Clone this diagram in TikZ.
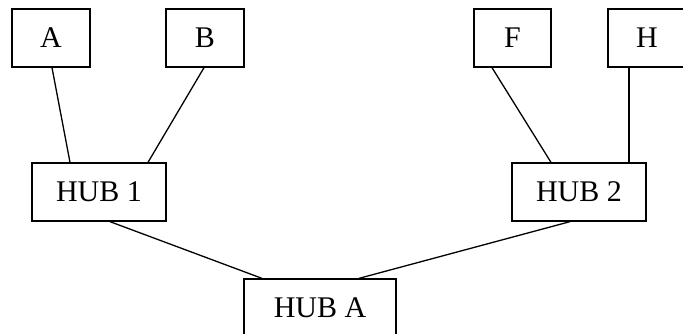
\documentclass[tikz,border=0pt]{standalone}
\usepackage{fontspec}
\setmainfont{Liberation Serif}
\begin{document}
\begin{tikzpicture}[x=1pt,y=-1pt,
  box/.style={draw,line width=1.3pt,inner sep=0pt,minimum height=58pt,
    font=\fontsize{30}{36}\selectfont},
  leaf/.style={box,minimum width=78pt},
  hub/.style={box,minimum width=134pt},
  link/.style={line width=1.3pt}]
\useasboundingbox (0,0) rectangle (683,333);
% leaf boxes
\node[leaf] (A) at (51,38) {A};
\node[leaf] (B) at (205,38) {B};
\node[leaf,minimum width=77pt] (F) at (512.5,38) {F};
\node[leaf] (H) at (647,38) {H};
% hubs
\node[hub] (hub1) at (99,192) {HUB 1\hspace{8pt}};
\node[hub] (hub2) at (579,192) {HUB 2\hspace{4pt}};
\node[box,minimum width=152pt] (hubA) at (320,308) {HUB A\hspace{16pt}};
% links
\draw[link] ([xshift=1pt]A.south) -- ([xshift=-29pt]hub1.north);
\draw[link] ([xshift=-1pt]B.south) -- ([xshift=49pt]hub1.north);
\draw[link] ([xshift=-20.5pt]F.south) -- ([xshift=-28pt]hub2.north);
\draw[link] ([xshift=-18pt]H.south) -- ([xshift=50pt]hub2.north);
\draw[link] ([xshift=11pt]hub1.south) -- ([xshift=-58pt]hubA.north);
\draw[link] ([xshift=-9pt]hub2.south) -- ([xshift=39pt]hubA.north);
\end{tikzpicture}
\end{document}
